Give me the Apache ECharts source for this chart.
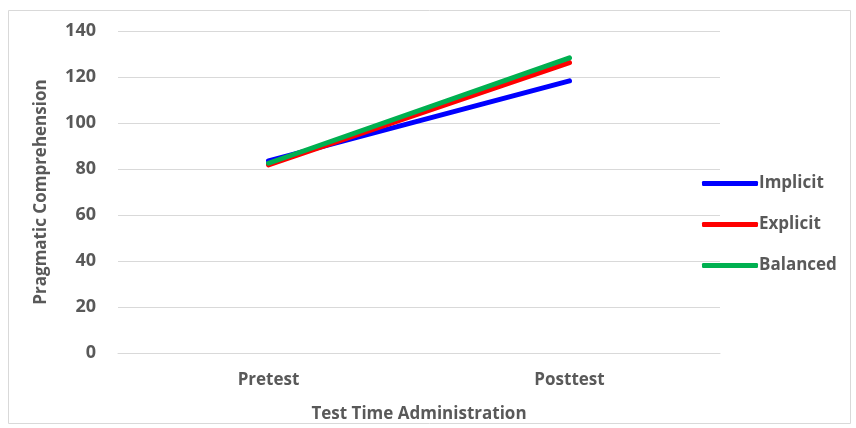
<!DOCTYPE html>
<html>
<head>
<meta charset="utf-8">
<script src="https://cdn.jsdelivr.net/npm/echarts@6/dist/echarts.min.js"></script>
<style>
  html, body { margin: 0; padding: 0; background: #fff; }
  #chart { width: 856px; height: 428px; }
</style>
</head>
<body>
<div id="chart"></div>
<script>
// Test administrations on the category axis
const categories = ['Pretest', 'Posttest'];

// Pragmatic comprehension means per instruction group
const implicitScores = [83.5, 118.3];
const explicitScores = [81.8, 126.3];
const balancedScores = [82.5, 128.3];

const yTicks = { min: 0, max: 140, interval: 20 };

const textColor = '#595959';
const fontFamily = '"Open Sans", "Liberation Sans", sans-serif';

const chart = echarts.init(document.getElementById('chart'), null, { renderer: 'canvas' });

function lineSeries(name, data, color) {
  return {
    name: name,
    type: 'line',
    data: data,
    symbol: 'none',
    lineStyle: { width: 5, color: color, cap: 'round' },
    itemStyle: { color: color }
  };
}

const labelFont = { color: textColor, fontSize: 17, fontWeight: 'bold', fontFamily: fontFamily };

chart.setOption({
  animation: false,
  graphic: [{
    type: 'rect',
    shape: { x: 8.5, y: 10.5, width: 842, height: 413 },
    style: { fill: 'none', stroke: '#d9d9d9', lineWidth: 1 },
    silent: true
  }],
  grid: { left: 118, right: 136, top: 31, bottom: 75 },
  legend: {
    orient: 'vertical',
    left: 697,
    top: 170,
    itemWidth: 56,
    itemHeight: 5,
    itemGap: 24,
    icon: 'roundRect',
    textStyle: Object.assign({}, labelFont, { padding: [0, 0, 0, -4] }),
    data: ['Implicit', 'Explicit', 'Balanced']
  },
  xAxis: {
    type: 'category',
    data: categories,
    boundaryGap: true,
    axisLine: { lineStyle: { color: '#d9d9d9', width: 1 } },
    axisTick: { show: false },
    axisLabel: Object.assign({}, labelFont, { margin: 19 }),
    name: 'Test Time Administration',
    nameLocation: 'middle',
    nameGap: 53,
    nameTextStyle: labelFont
  },
  yAxis: {
    type: 'value',
    min: yTicks.min,
    max: yTicks.max,
    interval: yTicks.interval,
    axisLine: { show: false },
    axisTick: { show: false },
    splitLine: { lineStyle: { color: '#d9d9d9', width: 1 } },
    axisLabel: Object.assign({}, labelFont, { fontSize: 18, margin: 22 }),
    name: 'Pragmatic Comprehension',
    nameLocation: 'middle',
    nameRotate: 90,
    nameGap: 68,
    nameTextStyle: labelFont
  },
  series: [
    lineSeries('Implicit', implicitScores, '#0000ff'),
    lineSeries('Explicit', explicitScores, '#ff0000'),
    lineSeries('Balanced', balancedScores, '#00b050')
  ]
});
</script>
</body>
</html>
